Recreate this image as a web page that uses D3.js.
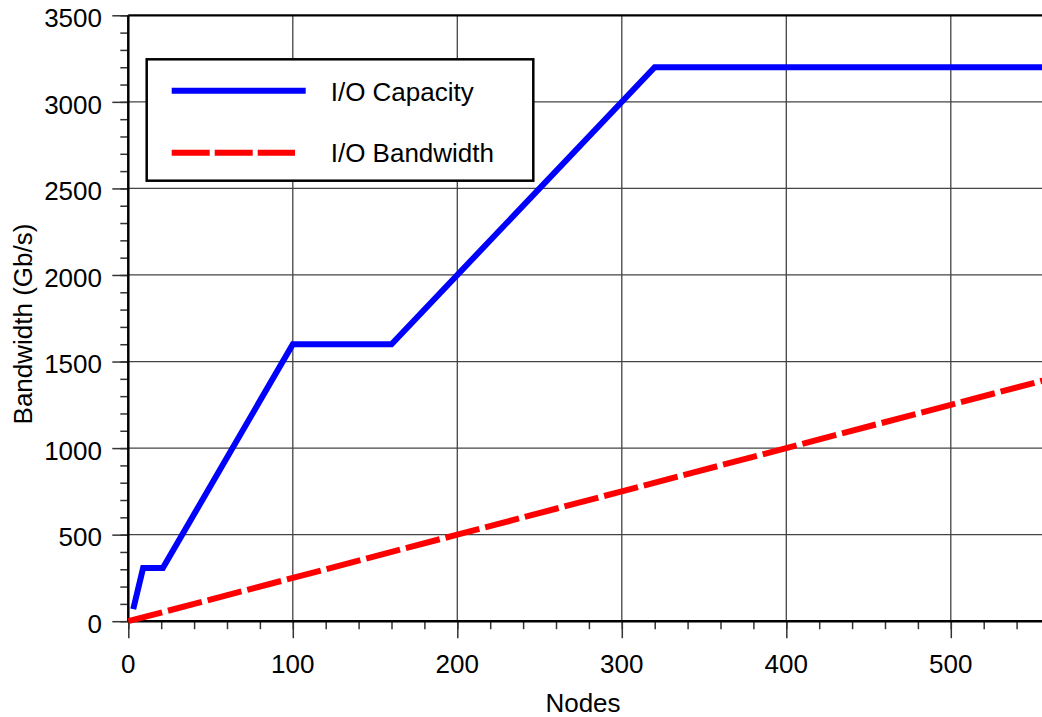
<!DOCTYPE html>
<html>
<head>
<meta charset="utf-8">
<script src="https://cdn.jsdelivr.net/npm/d3@7"></script>
<style>
  body { margin: 0; background: #fff; }
  svg { display: block; font-family: "Liberation Sans", Arial, sans-serif; }
</style>
</head>
<body>
<svg id="graph"></svg>
<script>
// data
const capNodes = [3, 9, 21, 100, 160, 320, 560]
const capValues = [70, 307, 307, 1600, 1600, 3200, 3200]
const bwNodes = [0, 100, 200, 300, 400, 500, 560]
const bwValues = [0, 250, 500, 750, 1000, 1250, 1400]
const xTicks = [0, 100, 200, 300, 400, 500]
const yTicks = [0, 500, 1000, 1500, 2000, 2500, 3000, 3500]
const seriesNames = ['I/O Capacity', 'I/O Bandwidth']

const width = 1042
const height = 717
const fontSize = 26

const x = d3.scaleLinear().domain([0, 560]).range([128.3, 1049.5])
const y = d3.scaleLinear().domain([0, 3500]).range([621.2, 15.3])

const svg = d3.select('#graph').attr('width', width).attr('height', height)

/** grid */
svg.append('g')
  .selectAll('line')
  .data(xTicks.slice(1))
  .enter()
  .append('line')
  .attr('x1', d => x(d)).attr('x2', d => x(d))
  .attr('y1', y(0)).attr('y2', y(3500))
  .attr('stroke', '#444').attr('stroke-width', 1.3)

svg.append('g')
  .selectAll('line')
  .data(yTicks.slice(1, -1))
  .enter()
  .append('line')
  .attr('x1', x(0)).attr('x2', width)
  .attr('y1', d => y(d)).attr('y2', d => y(d))
  .attr('stroke', '#444').attr('stroke-width', 1.3)

// top frame
svg.append('line')
  .attr('x1', x(0)).attr('x2', width)
  .attr('y1', y(3500)).attr('y2', y(3500))
  .attr('stroke', '#000').attr('stroke-width', 2.2)

/** axes: minor ticks, then major */
const styleAxis = g => {
  g.select('.domain').remove()
  g.selectAll('.tick line').attr('stroke', '#333').attr('stroke-width', 1.5)
}

svg.append('g')
  .attr('transform', `translate(0,${y(0)})`)
  .call(d3.axisBottom(x).tickValues(d3.range(0, 561, 20)).tickSize(8).tickFormat(''))
  .call(styleAxis)

svg.append('g')
  .attr('transform', `translate(0,${y(0)})`)
  .call(d3.axisBottom(x).tickValues(xTicks).tickSize(17).tickFormat(''))
  .call(styleAxis)

svg.append('g')
  .attr('transform', `translate(${x(0)},0)`)
  .call(d3.axisLeft(y).tickValues(d3.range(0, 3501, 100)).tickSize(8).tickFormat(''))
  .call(styleAxis)

svg.append('g')
  .attr('transform', `translate(${x(0)},0)`)
  .call(d3.axisLeft(y).tickValues(yTicks).tickSize(16).tickFormat(''))
  .call(styleAxis)

// tick labels
svg.append('g')
  .selectAll('text')
  .data(xTicks)
  .enter()
  .append('text')
  .attr('x', d => x(d))
  .attr('y', 672.5)
  .attr('text-anchor', 'middle')
  .attr('font-size', fontSize)
  .text(d => d)

svg.append('g')
  .selectAll('text')
  .data(yTicks)
  .enter()
  .append('text')
  .attr('x', 102)
  .attr('y', d => y(d) + 11.8)
  .attr('text-anchor', 'end')
  .attr('font-size', fontSize)
  .text(d => d)

// axis lines
svg.append('line')
  .attr('x1', x(0)).attr('x2', width)
  .attr('y1', y(0)).attr('y2', y(0))
  .attr('stroke', '#000').attr('stroke-width', 2.5)
svg.append('line')
  .attr('x1', x(0)).attr('x2', x(0))
  .attr('y1', y(0)).attr('y2', y(3500))
  .attr('stroke', '#000').attr('stroke-width', 2.5)

// titles
svg.append('text')
  .attr('x', 583)
  .attr('y', 712)
  .attr('text-anchor', 'middle')
  .attr('font-size', fontSize)
  .text('Nodes')

svg.append('text')
  .attr('transform', 'translate(32,324) rotate(-90)')
  .attr('text-anchor', 'middle')
  .attr('font-size', fontSize)
  .text('Bandwidth (Gb/s)')

/** series */
const line = d3.line().x(d => x(d[0])).y(d => y(d[1]))

svg.append('path')
  .datum(d3.zip(bwNodes, bwValues))
  .attr('d', line)
  .attr('fill', 'none')
  .attr('stroke', '#ff0000')
  .attr('stroke-width', 6)
  .attr('stroke-dasharray', '35,6')

svg.append('path')
  .datum(d3.zip(capNodes, capValues))
  .attr('d', line)
  .attr('fill', 'none')
  .attr('stroke', '#0000ff')
  .attr('stroke-width', 6)
  .attr('stroke-linejoin', 'miter')

/** legend */
const legend = svg.append('g')
legend.append('rect')
  .attr('x', 146.7).attr('y', 59.3)
  .attr('width', 386.6).attr('height', 121.4)
  .attr('fill', '#fff')
  .attr('stroke', '#000').attr('stroke-width', 2.5)

const legendRows = [
  { name: seriesNames[0], color: '#0000ff', dash: null, y: 90.7, x2: 305.7, base: 100.7 },
  { name: seriesNames[1], color: '#ff0000', dash: '38,5', y: 152.7, x2: 295, base: 161.7 }
]
legend.selectAll('line')
  .data(legendRows)
  .enter()
  .append('line')
  .attr('x1', 171.7).attr('x2', d => d.x2)
  .attr('y1', d => d.y).attr('y2', d => d.y)
  .attr('stroke', d => d.color)
  .attr('stroke-width', 6)
  .attr('stroke-dasharray', d => d.dash)

legend.selectAll('text')
  .data(legendRows)
  .enter()
  .append('text')
  .attr('x', 330.7)
  .attr('y', d => d.base)
  .attr('font-size', fontSize)
  .text(d => d.name)
</script>
</body>
</html>
